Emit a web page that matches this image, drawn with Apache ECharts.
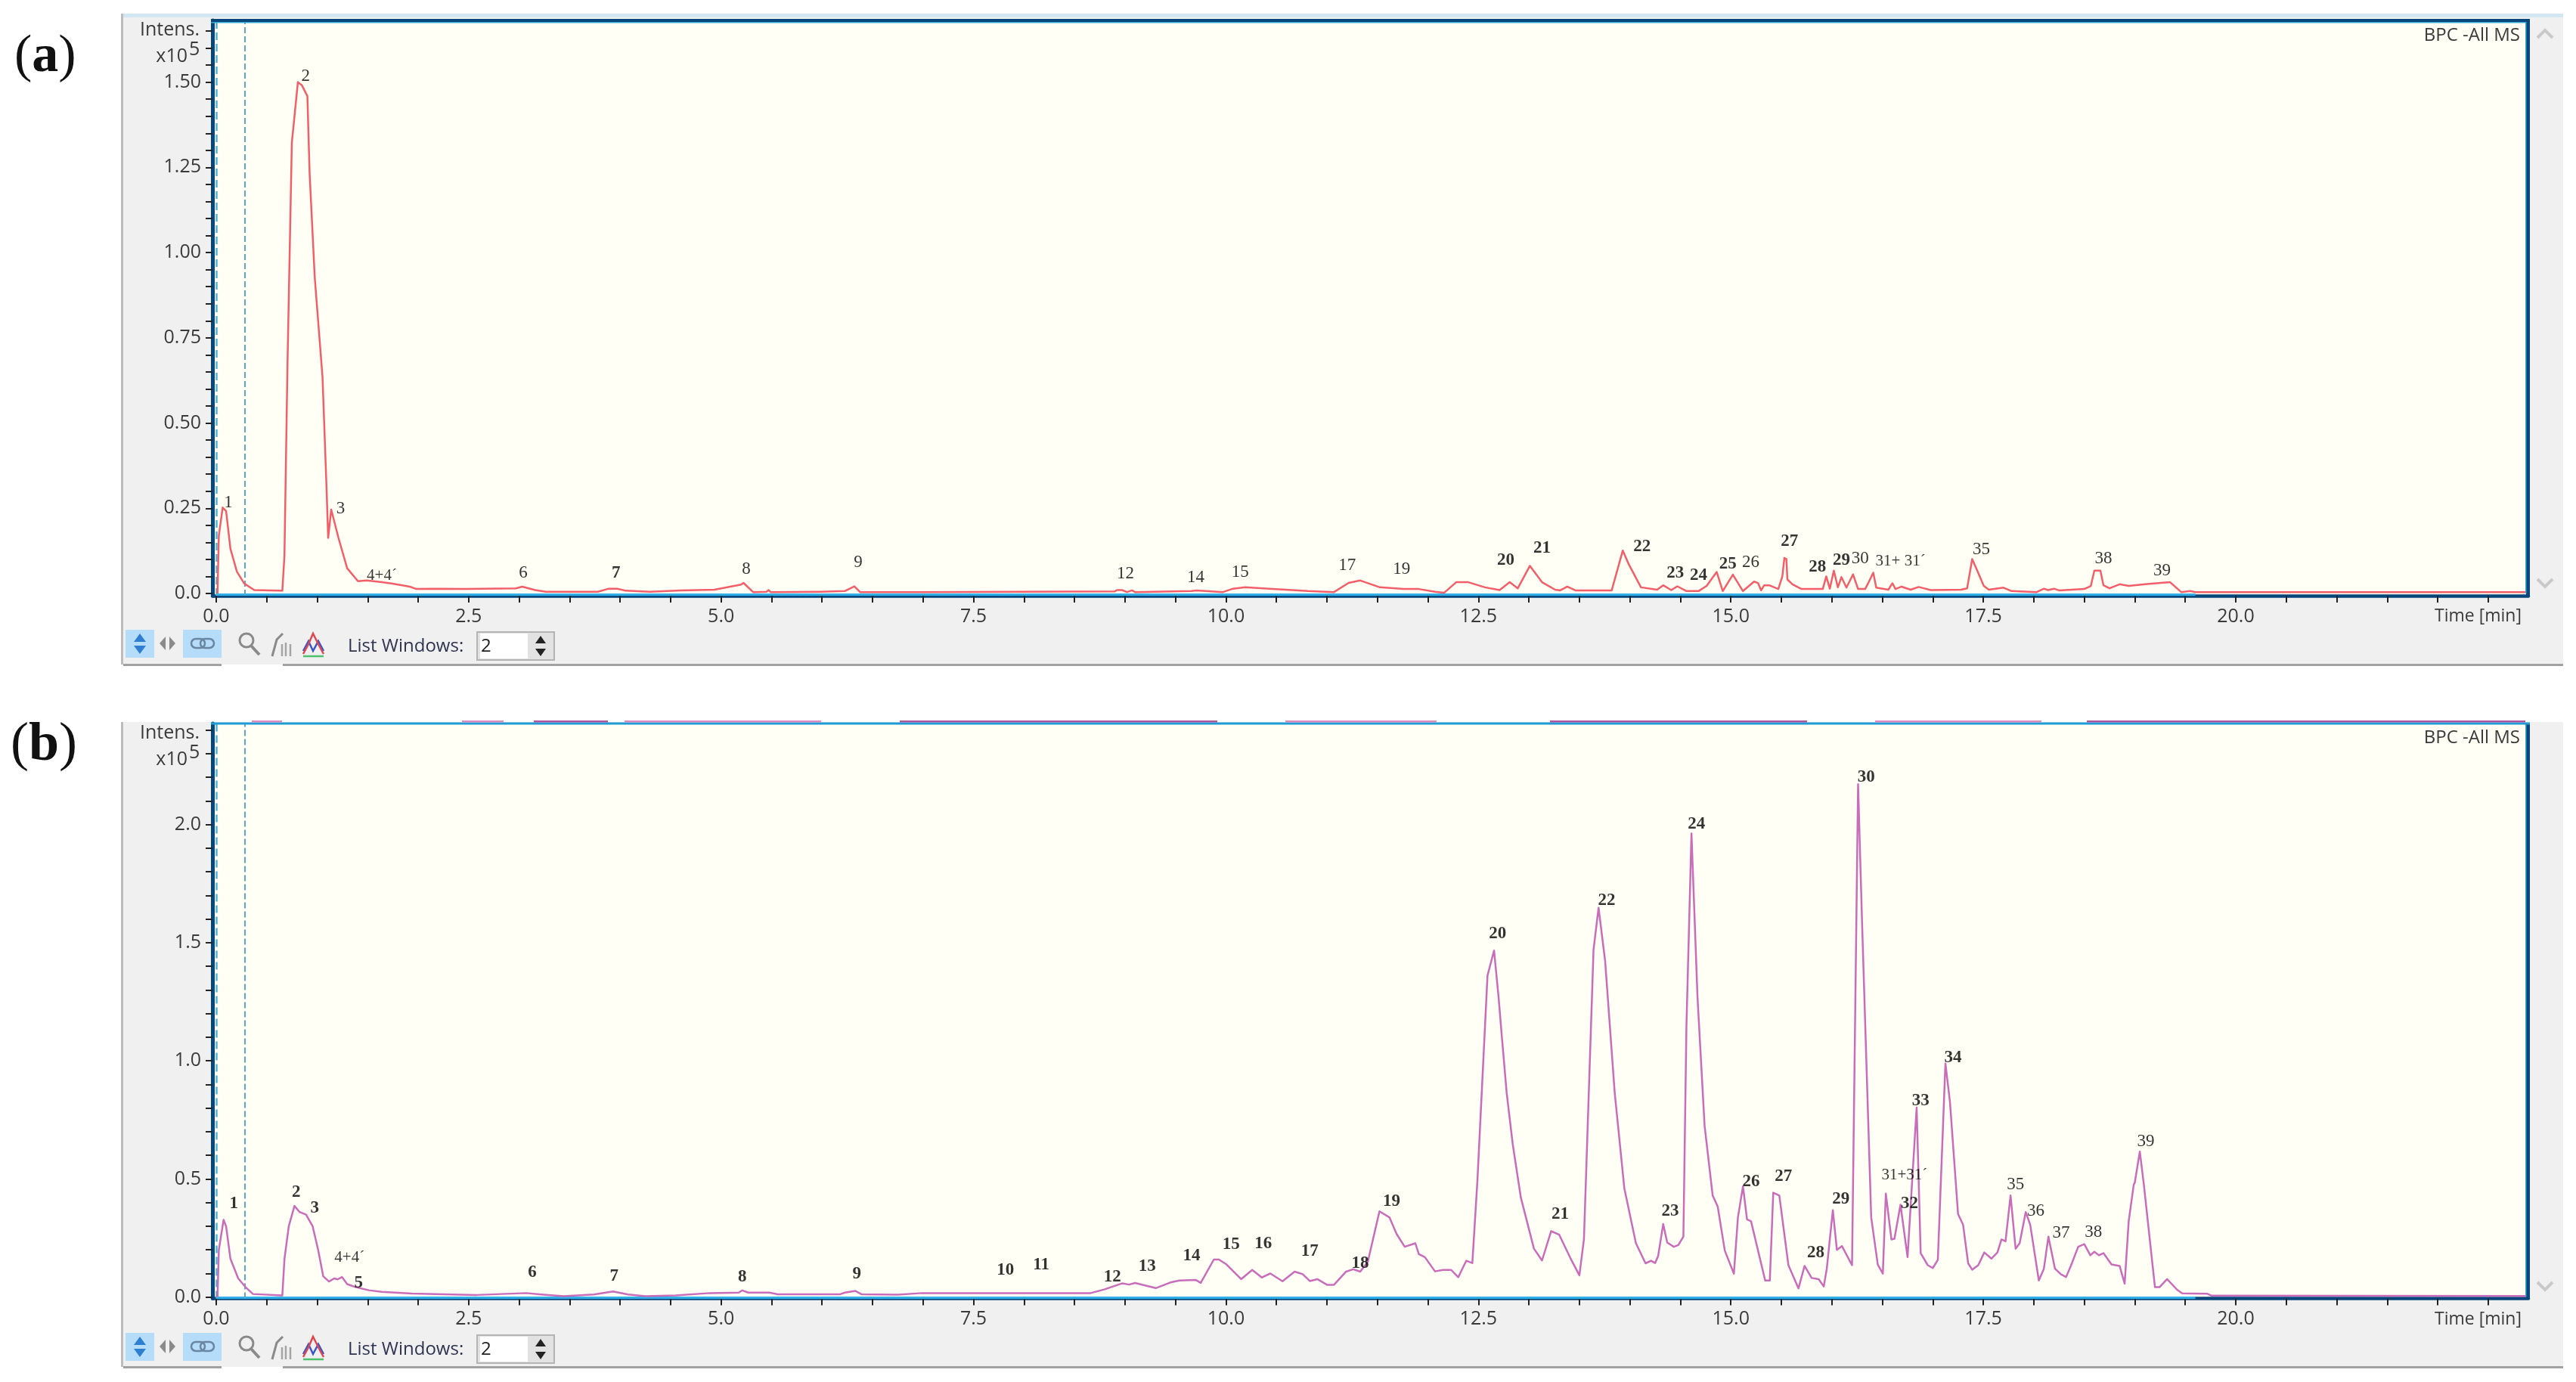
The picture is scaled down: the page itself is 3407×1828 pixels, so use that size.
<!DOCTYPE html>
<html>
<head>
<meta charset="utf-8">
<style>html,body{margin:0;padding:0;background:#fff}#c{width:3407px;height:1828px}</style>
<script src="https://cdn.jsdelivr.net/npm/echarts@6/dist/echarts.min.js"></script>
</head>
<body>
<div id="c"></div>
<script>
// ---------- panel (a) trace ----------
const timeA = [0.013,0.026,0.064,0.098,0.141,0.205,0.278,0.377,0.634,0.655,0.676,0.706,0.749,0.809,0.848,0.903,0.925,0.976,1.053,1.092,1.109,1.139,1.211,1.297,1.404,1.49,1.64,1.747,1.918,1.982,2.153,2.474,2.967,3.031,3.159,3.266,3.78,3.887,3.973,4.058,4.294,4.6,4.935,5.198,5.222,5.317,5.45,5.47,5.49,5.986,6.225,6.32,6.377,6.99,8.9,8.92,8.97,9.02,9.07,9.1,9.66,9.71,9.97,10.07,10.19,10.43,10.81,11.07,11.215,11.33,11.525,11.76,11.91,12.07,12.16,12.28,12.4,12.565,12.71,12.81,12.89,13.01,13.13,13.26,13.31,13.38,13.46,13.82,13.93,13.99,14.11,14.27,14.33,14.41,14.47,14.56,14.68,14.76,14.86,14.92,15.02,15.12,15.23,15.27,15.3,15.33,15.38,15.47,15.51,15.53,15.55,15.56,15.61,15.7,15.91,15.945,15.98,16.02,16.06,16.095,16.145,16.21,16.26,16.33,16.36,16.41,16.44,16.56,16.6,16.63,16.69,16.78,16.86,16.98,17.28,17.34,17.39,17.44,17.505,17.555,17.7,17.78,18.03,18.1,18.14,18.2,18.25,18.5,18.565,18.6,18.66,18.69,18.75,18.85,18.94,19.1,19.35,19.46,19.55,19.6,22.89];
const intensA = [0,0.169,0.252,0.242,0.131,0.064,0.029,0.01,0.008,0.008,0.112,0.672,1.322,1.5,1.491,1.459,1.233,0.927,0.634,0.316,0.163,0.246,0.163,0.074,0.036,0.038,0.033,0.029,0.02,0.013,0.014,0.013,0.015,0.02,0.01,0.005,0.005,0.014,0.014,0.008,0.005,0.009,0.011,0.026,0.031,0.004,0.005,0.01,0.004,0.005,0.007,0.021,0.004,0.004,0.006,0.01,0.01,0.004,0.009,0.004,0.007,0.009,0.004,0.014,0.018,0.014,0.007,0.004,0.031,0.038,0.018,0.013,0.013,0.005,0.002,0.033,0.033,0.018,0.01,0.033,0.015,0.081,0.033,0.011,0.009,0.02,0.009,0.009,0.126,0.085,0.018,0.011,0.024,0.01,0.021,0.007,0.007,0.022,0.063,0.007,0.055,0.007,0.035,0.03,0.009,0.024,0.024,0.013,0.05,0.104,0.101,0.041,0.027,0.013,0.013,0.05,0.014,0.067,0.018,0.048,0.017,0.056,0.013,0.013,0.03,0.061,0.017,0.011,0.03,0.013,0.02,0.011,0.019,0.01,0.011,0.015,0.101,0.067,0.022,0.011,0.017,0.007,0.004,0.014,0.01,0.014,0.009,0.013,0.022,0.067,0.067,0.024,0.015,0.027,0.022,0.027,0.033,0.004,0.007,0.004,0.004];
const peakNamesA = ['1','2','3','4+4´','6','7','8','9','12','14','15','17','19','20','21','22','23','24','25','26','27','28','29','30','31+ 31´','35','38','39'];
const peakTimesA = [0.12,0.886,1.233,1.64,3.04,3.96,5.25,6.358,9.004,9.7,10.14,11.2,11.74,12.77,13.13,14.12,14.45,14.68,14.97,15.196,15.58,15.858,16.095,16.28,16.68,17.48,18.69,19.27];
const peakHeightsA = [0.267,1.517,0.248,0.051,0.061,0.059,0.072,0.09,0.057,0.047,0.063,0.083,0.07,0.098,0.133,0.138,0.059,0.053,0.087,0.09,0.153,0.078,0.098,0.101,0.094,0.129,0.101,0.067];
const boldPeaksA = ['7','20','21','22','23','24','25','27','28','29'];

// ---------- panel (b) trace ----------
const timeB = [0.013,0.026,0.073,0.098,0.141,0.218,0.291,0.364,0.655,0.676,0.719,0.775,0.826,0.89,0.955,1.01,1.06,1.117,1.169,1.203,1.246,1.297,1.383,1.511,1.64,1.94,2.58,3.07,3.22,3.44,3.74,3.93,4.08,4.25,4.55,4.89,5.174,5.21,5.27,5.48,5.56,6.18,6.225,6.33,6.39,6.75,6.99,7.275,8.66,8.8,8.97,9.04,9.1,9.305,9.45,9.54,9.7,9.75,9.88,9.93,10.0,10.15,10.26,10.355,10.44,10.56,10.68,10.76,10.83,10.905,11.0,11.07,11.19,11.26,11.33,11.405,11.52,11.62,11.69,11.77,11.875,11.91,11.97,12.07,12.15,12.23,12.3,12.38,12.44,12.49,12.59,12.655,12.7,12.73,12.78,12.84,12.92,13.05,13.13,13.22,13.3,13.41,13.5,13.545,13.64,13.69,13.755,13.85,13.945,14.06,14.155,14.21,14.25,14.28,14.33,14.37,14.435,14.48,14.53,14.56,14.61,14.67,14.74,14.82,14.87,14.94,15.03,15.07,15.12,15.16,15.2,15.34,15.386,15.42,15.48,15.57,15.67,15.73,15.8,15.87,15.92,15.95,16.01,16.05,16.1,16.2,16.26,16.3,16.39,16.455,16.505,16.535,16.59,16.62,16.68,16.75,16.79,16.84,16.88,16.95,17.0,17.05,17.08,17.125,17.17,17.25,17.3,17.35,17.39,17.45,17.51,17.58,17.64,17.68,17.72,17.77,17.82,17.86,17.92,17.965,18.05,18.1,18.145,18.21,18.27,18.32,18.37,18.44,18.5,18.56,18.6,18.645,18.69,18.77,18.85,18.9,18.94,18.99,19.0,19.05,19.09,19.2,19.245,19.32,19.42,19.47,19.72,19.76,22.89];
const intensB = [0,0.199,0.327,0.3,0.162,0.079,0.042,0.013,0.007,0.162,0.3,0.386,0.36,0.349,0.3,0.199,0.088,0.066,0.079,0.075,0.085,0.055,0.042,0.029,0.022,0.015,0.009,0.017,0.011,0.004,0.011,0.024,0.011,0.004,0.007,0.017,0.019,0.028,0.019,0.019,0.012,0.012,0.019,0.026,0.012,0.01,0.017,0.017,0.017,0.033,0.058,0.053,0.06,0.038,0.062,0.07,0.073,0.06,0.159,0.159,0.14,0.076,0.115,0.083,0.1,0.067,0.108,0.097,0.068,0.076,0.052,0.052,0.108,0.118,0.108,0.15,0.363,0.337,0.267,0.213,0.228,0.182,0.169,0.109,0.115,0.115,0.084,0.154,0.144,0.492,1.361,1.467,1.268,1.113,0.864,0.647,0.422,0.205,0.155,0.279,0.264,0.166,0.092,0.244,1.47,1.648,1.423,0.864,0.461,0.228,0.143,0.154,0.144,0.174,0.309,0.231,0.213,0.22,0.256,1.144,1.962,1.268,0.725,0.43,0.383,0.197,0.099,0.337,0.469,0.329,0.321,0.07,0.07,0.442,0.43,0.135,0.037,0.132,0.081,0.076,0.045,0.12,0.368,0.2,0.216,0.135,2.171,1.578,0.337,0.138,0.099,0.438,0.244,0.247,0.391,0.169,0.453,0.802,0.186,0.135,0.123,0.158,0.492,0.989,0.826,0.352,0.306,0.143,0.116,0.135,0.189,0.163,0.189,0.244,0.236,0.43,0.205,0.228,0.36,0.306,0.07,0.12,0.256,0.12,0.096,0.085,0.135,0.213,0.224,0.177,0.192,0.177,0.186,0.138,0.132,0.057,0.321,0.476,0.484,0.616,0.476,0.042,0.042,0.076,0.031,0.016,0.014,0.006,0.005];
const peakNamesB = ['1','2','3','4+4´','5','6','7','8','9','10','11','12','13','14','15','16','17','18','19','20','21','22','23','24','26','27','28','29','30','31+31´','32','33','34','35','36','37','38','39'];
const peakTimesB = [0.175,0.792,0.976,1.32,1.41,3.13,3.94,5.21,6.344,7.815,8.17,8.875,9.22,9.66,10.05,10.37,10.83,11.33,11.64,12.69,13.31,13.77,14.4,14.66,15.2,15.52,15.84,16.09,16.34,16.72,16.77,16.88,17.2,17.82,18.02,18.27,18.59,19.11];
const peakHeightsB = [0.395,0.443,0.377,0.167,0.061,0.103,0.088,0.086,0.097,0.113,0.137,0.086,0.129,0.174,0.222,0.227,0.193,0.142,0.404,1.537,0.352,1.679,0.363,2.002,0.487,0.511,0.189,0.414,2.199,0.515,0.396,0.83,1.012,0.476,0.363,0.272,0.275,0.658];
const regularPeaksB = ['4+4´','31+31´','35','36','37','38','39'];

// ---------- axes ----------
const xTickValues = [0,0.5,1,1.5,2,2.5,3,3.5,4,4.5,5,5.5,6,6.5,7,7.5,8,8.5,9,9.5,10,10.5,11,11.5,12,12.5,13,13.5,14,14.5,15,15.5,16,16.5,17,17.5,18,18.5,19,19.5,20,20.5,21,21.5,22,22.5];
const xLabelValues = [0,2.5,5,7.5,10,12.5,15,17.5,20];
const yTickValuesA = [0,0.05,0.1,0.15,0.2,0.25,0.3,0.35,0.4,0.45,0.5,0.55,0.6,0.65,0.7,0.75,0.8,0.85,0.9,0.95,1,1.05,1.1,1.15,1.2,1.25,1.3,1.35,1.4,1.45,1.5,1.55,1.6,1.65];
const yLabelValuesA = [0,0.25,0.5,0.75,1,1.25,1.5];
const yTickValuesB = [0,0.1,0.2,0.3,0.4,0.5,0.6,0.7,0.8,0.9,1,1.1,1.2,1.3,1.4,1.5,1.6,1.7,1.8,1.9,2,2.1,2.2,2.3,2.4];
const yLabelValuesB = [0,0.5,1,1.5,2];
const cursorTime = 0.278;
const baselineEnd = 19.6;

const UI = '"Open Sans", "Noto Sans", sans-serif';
const AX = '#07477c', TXT = '#3a3a3a', PANEL = '#f0f0f0', PAPER = '#fffff6';
const T = (text, x, y, size, o = {}) => ({type:'text', z:5, silent:true, style:Object.assign({text, x, y, font:`${o.weight||'normal'} ${size}px ${o.family||UI}`, fill:o.fill||TXT, align:o.align||'left', verticalAlign:'middle'}, {})});
const R = (x, y, w, h, fill, z = 5, stroke) => ({type:'rect', z, silent:true, shape:{x, y, width:w, height:h}, style:{fill, stroke:stroke||null, lineWidth:stroke?2:0}});
const P = (points, fill) => ({type:'polygon', z:6, silent:true, shape:{points}, style:{fill}});
const L = (points, stroke, w = 2.5) => ({type:'polyline', z:6, silent:true, shape:{points}, style:{stroke, lineWidth:w, fill:null}});

function chrome(dy, top, bottom) {
  return [
    R(160, top, 3230, bottom - top, PANEL, -2),
    R(160, top, 3, bottom - top, '#bcbcbc', -1),
    R(163, bottom - 1, 130, 3, '#a2a2a2', -1),
    R(374, bottom - 1, 3016, 3, '#a2a2a2', -1),
    R(166, 833 + dy, 38, 37, '#b5dcf8'),
    P([[185,838+dy],[177,849+dy],[193,849+dy]], '#2f7fd0'),
    P([[185,865+dy],[177,854+dy],[193,854+dy]], '#2f7fd0'),
    P([[219,842+dy],[219,860+dy],[211,851+dy]], '#8a8a8a'),
    P([[224,842+dy],[224,860+dy],[232,851+dy]], '#8a8a8a'),
    R(242, 833 + dy, 51, 37, '#b5dcf8'),
    {type:'rect', z:6, silent:true, shape:{x:253,y:845+dy,width:18,height:12,r:6}, style:{fill:null,stroke:'#6b86a0',lineWidth:2.5}},
    {type:'rect', z:6, silent:true, shape:{x:265,y:845+dy,width:18,height:12,r:6}, style:{fill:null,stroke:'#6b86a0',lineWidth:2.5}},
    {type:'circle', z:6, silent:true, shape:{cx:326,cy:847+dy,r:9}, style:{fill:null,stroke:'#8a8a8a',lineWidth:3}},
    L([[332,854+dy],[343,866+dy]], '#8a8a8a', 4),
    L([[360,868+dy],[366,846+dy],[374,838+dy]], '#8a8a8a', 3),
    L([[373,852+dy],[373,868+dy]], '#a5a5a5', 2.5),
    L([[378,850+dy],[378,868+dy]], '#a5a5a5', 2.5),
    L([[384,852+dy],[384,868+dy]], '#a5a5a5', 2.5),
    L([[401,861+dy],[408,848+dy],[414,861+dy],[421,848+dy],[428,861+dy]], '#3a57c8', 2.5),
    L([[401,865+dy],[408,852+dy],[414,838+dy],[421,852+dy],[428,865+dy]], '#e0474c', 2.5),
    L([[401,868+dy],[428,868+dy]], '#4cc06a', 2.5),
    T('List Windows:', 460, 855 + dy, 24, {fill:'#2e3350'}),
    R(631, 836 + dy, 102, 37, '#e2e2e2', 5, '#b4b4b4'),
    R(635, 838 + dy, 63, 33, '#ffffff'),
    T('2', 636, 855 + dy, 24, {fill:'#222'}),
    P([[715,841+dy],[708,851+dy],[722,851+dy]], '#222'),
    P([[715,868+dy],[708,858+dy],[722,858+dy]], '#222'),
    T('Time [min]', 3335, 815 + dy, 23, {align:'right'}),
    T('Intens.', 264, 40 + dy, 25, {align:'right'}),
    T('x10', 248, 75 + dy, 25, {align:'right'}),
    T('5', 250, 66 + dy, 25),
    L([[3356,766+dy],[3366,776+dy],[3376,766+dy]], '#c9c9c9', 4),
    R(3341, top + (dy ? 2 : 7), 5, 788 + dy - top - (dy ? 2 : 7), AX),
    R(3340, top + (dy ? 2 : 7), 1.5, 785 + dy - top - (dy ? 2 : 7), '#39a8d8')
  ];
}

const graphic = [
  ...chrome(0, 18, 879),
  ...chrome(930, 955, 1808),
  R(163, 18, 3227, 5, '#d3e6f4', -1),
  R(279, 25, 3067, 4, AX),
  R(279, 29, 3062, 1.5, '#39a8d8'),
  L([[3356,50],[3366,40],[3376,50]], '#c9c9c9', 4),
  T('BPC -All MS', 3333, 47, 24, {align:'right'}),
  T('BPC -All MS', 3333, 976, 24, {align:'right'}),
  R(279, 955.5, 3067, 3, '#1f9bd6'),
  R(333, 953, 40, 2.5, '#d98ac0'), R(611, 953, 55, 2.5, '#d98ac0'), R(706, 953, 98, 2.5, '#a9559f'),
  R(826, 953, 260, 2.5, '#d98ac0'), R(1190, 953, 420, 2.5, '#a9559f'), R(1700, 953, 200, 2.5, '#d98ac0'),
  R(2050, 953, 340, 2.5, '#a9559f'), R(2480, 953, 220, 2.5, '#d98ac0'), R(2760, 953, 580, 2.5, '#a9559f'),
  {type:'text', z:5, silent:true, style:{x:19, y:76, verticalAlign:'middle', text:'({b|a})', font:'70px "Liberation Serif"', fill:'#111', rich:{b:{font:'bold 70px "Liberation Serif"', fill:'#111'}}}},
  {type:'text', z:5, silent:true, style:{x:14, y:986, verticalAlign:'middle', text:'({b|b})', font:'72px "Liberation Serif"', fill:'#111', rich:{b:{font:'bold 72px "Liberation Serif"', fill:'#111'}}}}
];

const pair = (a, b) => a.map((v, i) => [v, b[i]]);
const peaks = (names, times, heights, isBold) => names.map((n, i) => ({
  name:n, value:[times[i], heights[i]],
  label:{fontWeight:isBold(n) ? 'bold' : 'normal', fontSize:n.includes('+') ? 21 : 23}
}));

const xAxis = i => ({
  gridIndex:i, type:'value', min:-0.037, max:22.898, splitLine:{show:false},
  axisLine:{onZero:false, lineStyle:{color:AX, width:4.5}},
  axisTick:{length:9, lineStyle:{color:'#222', width:2}, customValues:xTickValues},
  axisLabel:{customValues:xLabelValues, margin:15, fontFamily:UI, fontSize:25, color:TXT, formatter:v => v.toFixed(1)}
});
const yAxis = (i, min, max, ticks, labels, fmt, pad) => ({
  gridIndex:i, type:'value', min, max, splitLine:{show:false},
  axisLine:{onZero:false, lineStyle:{color:AX, width:5}},
  axisTick:{length:9, lineStyle:{color:'#222', width:2}, customValues:ticks},
  axisLabel:{customValues:labels, margin:15, fontFamily:UI, fontSize:25, color:TXT, formatter:fmt, padding:[pad,0,0,0]}
});
const trace = (i, t, v, color) => ({
  type:'line', xAxisIndex:i, yAxisIndex:i, data:pair(t, v), showSymbol:false, symbol:'none', smooth:false, silent:true, z:3,
  lineStyle:{color, width:2.5, join:'round'},
  markLine:{silent:true, symbol:'none', label:{show:false}, animation:false, z:2, data:[
    [{coord:[0,-0.002*(i?1.4:1)], lineStyle:{color:'#2fb0e8', width:3, type:'solid'}},{coord:[baselineEnd,-0.002*(i?1.4:1)]}],
    {xAxis:0.0, lineStyle:{color:'#4fb4dc', width:2.5, type:'dashed'}},
    {xAxis:cursorTime, lineStyle:{color:'#5aa9c9', width:2, type:'dashed'}}
  ]}
});
const labels = (i, data) => ({
  type:'scatter', xAxisIndex:i, yAxisIndex:i, data, symbolSize:1, silent:true, z:4,
  itemStyle:{color:'transparent'},
  label:{show:true, position:'inside', formatter:'{b}', fontFamily:'"Liberation Serif", serif', color:'#000'},
  labelLayout:{hideOverlap:false}
});

const chart = echarts.init(document.getElementById('c'), null, {width:3407, height:1828});
chart.setOption({
  animation:false,
  backgroundColor:'#ffffff',
  tooltip:{show:false},
  grid:[
    {left:281, width:3063, top:27, height:761, show:true, backgroundColor:PAPER, borderWidth:0, containLabel:false},
    {left:281, width:3063, top:957, height:760.5, show:true, backgroundColor:PAPER, borderWidth:0, containLabel:false}
  ],
  xAxis:[xAxis(0), xAxis(1)],
  yAxis:[
    yAxis(0, -0.0067, 1.681, yTickValuesA, yLabelValuesA, v => v === 0 ? '0.0' : v.toFixed(2), 6),
    yAxis(1, -0.0058, 2.428, yTickValuesB, yLabelValuesB, v => v.toFixed(1), 2)
  ],
  series:[
    trace(0, timeA, intensA, '#f35f69'),
    labels(0, peaks(peakNamesA, peakTimesA, peakHeightsA, n => boldPeaksA.includes(n))),
    trace(1, timeB, intensB, '#c96dbb'),
    labels(1, peaks(peakNamesB, peakTimesB, peakHeightsB, n => !regularPeaksB.includes(n)))
  ],
  graphic:{elements:graphic}
});
</script>
</body>
</html>
